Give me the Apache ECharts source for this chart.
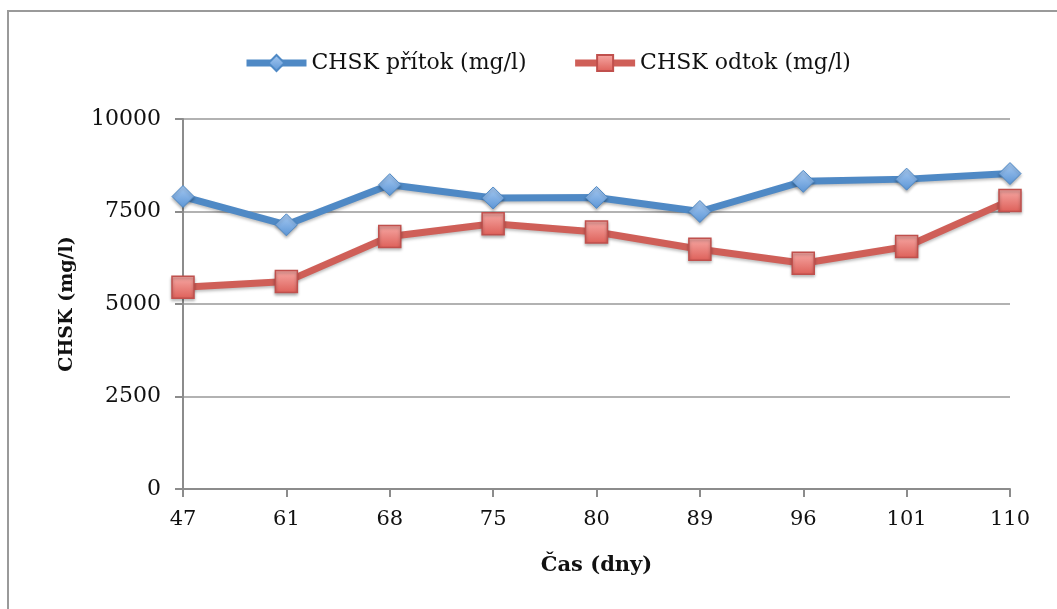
<!DOCTYPE html>
<html>
<head>
<meta charset="utf-8">
<script src="https://cdn.jsdelivr.net/npm/echarts@6/dist/echarts.min.js"></script>
<style>html,body{margin:0;padding:0;background:#fff;}#c{width:1057px;height:609px;}</style>
</head>
<body>
<div id="c"></div>
<script>
const categories = ['47', '61', '68', '75', '80', '89', '96', '101', '110'];
const pritok = [7905, 7140, 8225, 7865, 7880, 7500, 8315, 8375, 8525];
const odtok = [5450, 5605, 6825, 7170, 6945, 6480, 6100, 6555, 7800];
const yTicks = [0, 2500, 5000, 7500, 10000];
const seriesNames = ['CHSK přítok (mg/l)', 'CHSK odtok (mg/l)'];

const font = 'DejaVu Serif';
const chart = echarts.init(document.getElementById('c'));
const blueFill = new echarts.graphic.LinearGradient(0, 0, 0, 1, [
  {offset: 0, color: '#a9cbf2'}, {offset: 1, color: '#5b95d6'}]);
const redFill = new echarts.graphic.LinearGradient(0, 0, 0, 1, [
  {offset: 0, color: '#f7aaa6'}, {offset: 1, color: '#dd5f58'}]);
chart.setOption({
  animation: false,
  backgroundColor: '#fff',
  graphic: [{
    type: 'rect', shape: {x: 8, y: 11, width: 1100, height: 700},
    style: {fill: 'none', stroke: '#9a9a9a', lineWidth: 2}, silent: true, z: -1
  }],
  legend: {
    top: 47, left: 238,
    itemWidth: 60, itemHeight: 20, itemGap: 45,
    lineStyle: {width: 7},
    textStyle: {fontFamily: font, fontSize: 22, color: '#111'},
    data: seriesNames
  },
  grid: {left: 183, right: 47, top: 119, bottom: 120},
  xAxis: {
    type: 'category', data: categories, boundaryGap: false,
    name: 'Čas (dny)', nameLocation: 'middle', nameGap: 66,
    nameTextStyle: {fontFamily: font, fontSize: 21, fontWeight: 'bold', color: '#111'},
    axisLine: {lineStyle: {color: '#8c8c8c', width: 2}},
    axisTick: {show: true, length: 8, lineStyle: {color: '#8c8c8c', width: 2}},
    axisLabel: {fontFamily: font, fontSize: 21, color: '#111', margin: 20}
  },
  yAxis: {
    type: 'value', min: yTicks[0], max: yTicks[yTicks.length - 1], interval: 2500,
    name: 'CHSK (mg/l)', nameLocation: 'middle', nameGap: 106,
    nameTextStyle: {fontFamily: font, fontSize: 19, fontWeight: 'bold', color: '#111'},
    axisLine: {show: true, lineStyle: {color: '#8c8c8c', width: 2}},
    axisTick: {show: true, length: 8, lineStyle: {color: '#8c8c8c', width: 2}},
    axisLabel: {fontFamily: font, fontSize: 22, color: '#111', margin: 22,
      formatter: v => String(v)},
    splitLine: {show: true, lineStyle: {color: '#999', width: 1.5}}
  },
  series: [{
    name: seriesNames[0], type: 'line', data: pritok,
    symbol: 'diamond', symbolSize: 22,
    lineStyle: {color: '#4f89c5', width: 7, shadowColor: 'rgba(0,0,0,0.25)', shadowBlur: 3, shadowOffsetY: 2},
    itemStyle: {color: blueFill, borderColor: '#4f89c5', borderWidth: 1,
      shadowColor: 'rgba(0,0,0,0.3)', shadowBlur: 3, shadowOffsetY: 2},
    z: 3
  }, {
    name: seriesNames[1], type: 'line', data: odtok,
    symbol: 'rect', symbolSize: 22,
    lineStyle: {color: '#cf5f58', width: 7, shadowColor: 'rgba(0,0,0,0.25)', shadowBlur: 3, shadowOffsetY: 2},
    itemStyle: {color: redFill, borderColor: '#c0504d', borderWidth: 1.5,
      shadowColor: 'rgba(0,0,0,0.3)', shadowBlur: 3, shadowOffsetY: 2},
    z: 2
  }]
});
</script>
</body>
</html>
